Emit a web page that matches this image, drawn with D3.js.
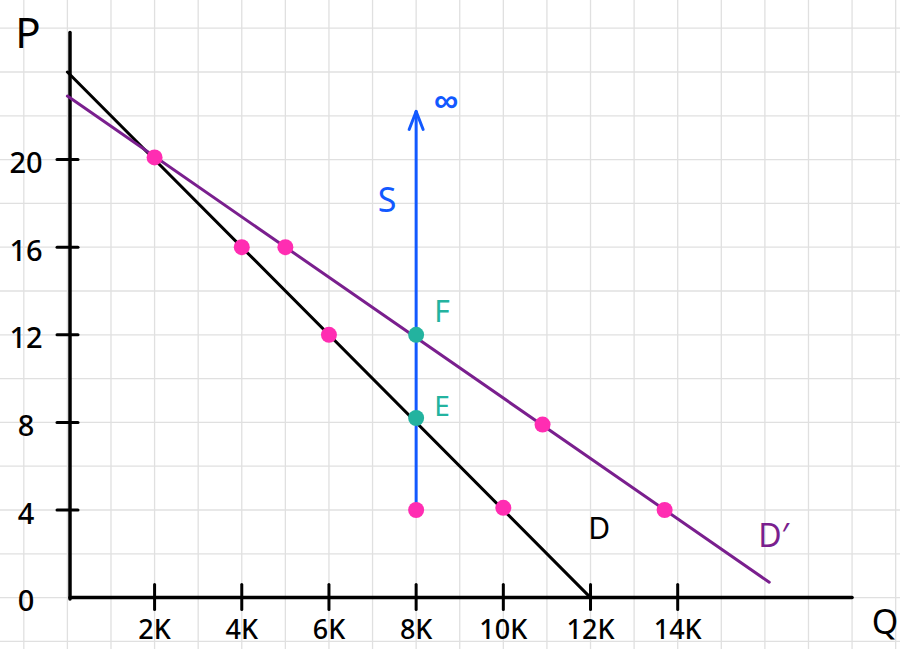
<!DOCTYPE html>
<html><head><meta charset="utf-8">
<script src="https://cdn.jsdelivr.net/npm/d3@7"></script>
<style>html,body{margin:0;padding:0;background:#fff;} svg{display:block;}</style>
</head><body>
<svg id="c" width="900" height="649"></svg>
<script>
// ---- data ----
const xTicks = [2, 4, 6, 8, 10, 12, 14];          // Q in thousands
const xTickLabels = ["2K", "4K", "6K", "8K", "10K", "12K", "14K"];
const yTicks = [0, 4, 8, 12, 16, 20];
const yTickLabels = ["0", "4", "8", "12", "16", "20"];
const demandD = [[0, 24], [12, 0]];                // line D
const demandDPrime = [[0, 22.9], [16.1, 0.7]];     // line D'
const supplyS = [[8, 4], [8, 22.2]];               // vertical S, arrow up to infinity
const pinkPoints = [[2, 20.1], [4, 16], [5, 16], [6, 12], [8, 4], [10, 4.1], [10.9, 7.9], [13.7, 4.0]];
const tealPoints = [[8, 12], [8, 8.2]];
const gridQ = d3.range(-2, 21, 1);
const gridP = d3.range(-4, 30, 2);

// ---- scales ----
const x = d3.scaleLinear().domain([0, 14]).range([67.4, 677.7]);
const y = d3.scaleLinear().domain([0, 20]).range([597.6, 159.6]);

const svg = d3.select("#c");
const W = 900, H = 649;
const purple = "#7a1f8e", pink = "#ff2db2", teal = "#23b39f", blue = "#1259ff";
const font = "'Noto Sans', sans-serif";

// grid
svg.append("g").selectAll("line").data(gridQ).join("line")
  .attr("x1", d => x(d)).attr("x2", d => x(d)).attr("y1", 0).attr("y2", H)
  .attr("stroke", "#e0e0e0").attr("stroke-width", 1.3);
svg.append("g").selectAll("line").data(gridP).join("line")
  .attr("y1", d => y(d)).attr("y2", d => y(d)).attr("x1", 0).attr("x2", W)
  .attr("stroke", "#e0e0e0").attr("stroke-width", 1.3);

// axes
const ax0 = x(0) + 2.6, ay0 = y(0);
svg.append("line").attr("x1", ax0).attr("x2", ax0).attr("y1", y(25.8)).attr("y2", ay0 + 1.5)
  .attr("stroke", "#000").attr("stroke-width", 3.5).attr("stroke-linecap", "round");
svg.append("line").attr("x1", ax0).attr("x2", x(18)).attr("y1", ay0).attr("y2", ay0)
  .attr("stroke", "#000").attr("stroke-width", 3.5).attr("stroke-linecap", "round");

// y ticks (skip 0)
svg.append("g").selectAll("line").data(yTicks.filter(d => d > 0)).join("line")
  .attr("x1", ax0 - 13).attr("x2", ax0 + 8).attr("y1", d => y(d)).attr("y2", d => y(d))
  .attr("stroke", "#000").attr("stroke-width", 3).attr("stroke-linecap", "round");
svg.append("g").selectAll("text").data(yTicks).join("text")
  .attr("x", 26).attr("y", d => y(d) + 2).attr("text-anchor", "middle").attr("dominant-baseline", "central")
  .attr("font-family", font).attr("font-size", 29).attr("font-weight", 500).attr("fill", "#000")
  .text((d, i) => yTickLabels[i]);

// x ticks
svg.append("g").selectAll("line").data(xTicks).join("line")
  .attr("x1", d => x(d)).attr("x2", d => x(d)).attr("y1", ay0 - 13).attr("y2", ay0 + 12)
  .attr("stroke", "#000").attr("stroke-width", 3).attr("stroke-linecap", "round");
svg.append("g").selectAll("text").data(xTicks).join("text")
  .attr("x", d => x(d)).attr("y", ay0 + 31).attr("text-anchor", "middle").attr("dominant-baseline", "central")
  .attr("font-family", font).attr("font-size", 27).attr("font-weight", 500).attr("fill", "#000")
  .text((d, i) => xTickLabels[i]);

// axis titles
svg.append("text").attr("x", 28).attr("y", 31).attr("text-anchor", "middle").attr("dominant-baseline", "central")
  .attr("font-family", font).attr("font-size", 42).attr("fill", "#000").text("P");
svg.append("text").attr("x", 885).attr("y", 621).attr("text-anchor", "middle").attr("dominant-baseline", "central")
  .attr("font-family", font).attr("font-size", 34).attr("fill", "#000").text("Q");

const line = d3.line().x(d => x(d[0])).y(d => y(d[1]));

// D
svg.append("path").datum(demandD).attr("d", line).attr("fill", "none")
  .attr("stroke", "#000").attr("stroke-width", 3).attr("stroke-linecap", "round");
// D'
svg.append("path").datum(demandDPrime).attr("d", line).attr("fill", "none")
  .attr("stroke", purple).attr("stroke-width", 3).attr("stroke-linecap", "round");
// S
svg.append("path").datum(supplyS).attr("d", line).attr("fill", "none")
  .attr("stroke", blue).attr("stroke-width", 3).attr("stroke-linecap", "round");
const tip = supplyS[1];
svg.append("path")
  .attr("d", `M${x(tip[0]) - 7},${y(tip[1]) + 18} L${x(tip[0])},${y(tip[1])} L${x(tip[0]) + 7},${y(tip[1]) + 18}`)
  .attr("fill", "none").attr("stroke", blue).attr("stroke-width", 3)
  .attr("stroke-linecap", "round").attr("stroke-linejoin", "round");

// points
svg.append("g").selectAll("circle").data(pinkPoints).join("circle")
  .attr("cx", d => x(d[0])).attr("cy", d => y(d[1])).attr("r", 8).attr("fill", pink);
svg.append("g").selectAll("circle").data(tealPoints).join("circle")
  .attr("cx", d => x(d[0])).attr("cy", d => y(d[1])).attr("r", 8).attr("fill", teal);

// annotations
function label(t, px, py, size, color, weight) {
  svg.append("text").attr("x", px).attr("y", py).attr("text-anchor", "middle").attr("dominant-baseline", "central")
    .attr("font-family", font).attr("font-size", size).attr("font-weight", weight || 400).attr("fill", color).text(t);
}
label("∞", x(8) + 30, y(tip[1]) - 12, 34, blue, 700);
label("S", x(8) - 29, y(18.2), 34, blue);
label("F", x(8) + 26, y(12) - 24, 30, teal);
label("E", x(8) + 26, y(8.2) - 13, 28, teal);
label("D", x(12.2), y(3.2), 30, "#000");
label("D′", x(16.2), y(2.9), 32, purple);
</script>
</body></html>
